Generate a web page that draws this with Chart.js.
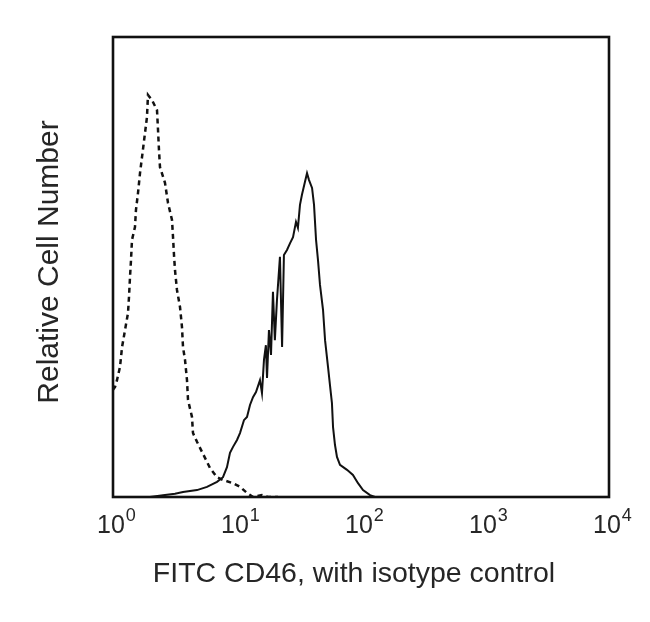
<!DOCTYPE html>
<html>
<head>
<meta charset="utf-8">
<script src="https://cdn.jsdelivr.net/npm/chart.js@4"></script>
<style>
  body { margin: 0; background: #fff; }
  #wrap { width: 650px; height: 622px; }
</style>
</head>
<body>
<div id="wrap"><canvas id="histChart" width="650" height="622"></canvas></div>
<script>
// isotype control (dashed) - fluorescence vs relative count
const isoX = [1, 1.038, 1.077, 1.139, 1.183, 1.25, 1.321, 1.346, 1.371, 1.397, 1.423, 1.504, 1.532, 1.591, 1.651, 1.714, 1.811, 1.879, 1.915, 2.063, 2.264, 2.307, 2.349, 2.393, 2.625, 2.778, 2.992, 3.048, 3.104, 3.162, 3.281, 3.47, 3.599, 3.669, 3.808, 3.951, 4.027, 4.335, 4.416, 4.757, 5.52, 6.06, 6.9, 7.71, 9.29, 10.6, 12.0, 13.5, 15.9, 17.8, 21.4];
const isoY = [23.3, 23.9, 25.4, 28.3, 32.6, 36.3, 40.0, 43.5, 47.8, 51.5, 55.9, 58.7, 62.4, 66.1, 70.4, 73.9, 79.1, 82.6, 87.4, 86.3, 84.1, 79.8, 75.4, 71.7, 68.3, 63.9, 60.2, 56.5, 52.6, 49.3, 45.0, 41.3, 37.0, 32.6, 29.8, 25.4, 21.1, 17.4, 13.9, 12.0, 8.5, 6.3, 4.3, 3.7, 3.0, 2.2, 0.9, 0, 0.4, 0, 0];

// FITC CD46 (solid)
const cd46X = [1.988, 2.53, 3.162, 3.669, 4.757, 5.73, 6.9, 7.71, 8.3, 8.78, 9.29, 10.0, 10.57, 11.38, 12.04, 12.73, 13.46, 14.23, 15.32, 15.9, 16.5, 17.1, 17.46, 18.1, 18.8, 19.5, 20.2, 21.0, 22.2, 23.1, 23.9, 25.3, 26.8, 28.3, 29.9, 31.0, 32.2, 33.4, 35.3, 36.7, 38.1, 40.3, 41.8, 43.4, 45.0, 46.7, 49.4, 51.3, 54.2, 56.2, 58.3, 59.5, 61.7, 64.0, 67.7, 77.1, 86.1, 94.6, 103.8, 118.2, 129.7];
const cd46Y = [0, 0.4, 0.7, 1.1, 1.5, 2.2, 3.3, 4.3, 6.5, 9.6, 10.9, 12.4, 13.9, 16.7, 17.4, 20.0, 21.7, 22.8, 25.4, 22.6, 29.8, 33.0, 25.9, 36.3, 30.9, 44.6, 34.1, 42.8, 52.2, 32.6, 52.6, 53.7, 55.2, 56.5, 59.8, 58.5, 63.5, 65.7, 68.5, 70.4, 68.9, 67.2, 63.5, 55.9, 51.5, 46.1, 40.7, 34.1, 28.3, 24.3, 20.4, 15.2, 11.3, 8.7, 7.0, 5.9, 4.8, 3.0, 1.5, 0.4, 0];

const tickExps = [0, 1, 2, 3, 4];
const xTitle = 'FITC CD46, with isotype control';
const yTitle = 'Relative Cell Number';

const toPoints = (xs, ys) => xs.map((x, i) => ({ x: x, y: ys[i] }));

const labelFont = 'Liberation Sans, Arial, sans-serif';

// frame, tick labels and axis titles drawn by hand
const decorPlugin = {
    id: 'decor',
    afterDraw(chart) {
        const c = chart.ctx;
        const a = chart.chartArea;
        const xs = chart.scales.x;
        c.save();
        c.strokeStyle = '#111';
        c.lineWidth = 2.6;
        c.strokeRect(a.left, a.top, a.right - a.left, a.bottom - a.top);

        c.fillStyle = '#262626';
        c.textBaseline = 'alphabetic';
        c.textAlign = 'left';
        tickExps.forEach(e => {
            const px = xs.getPixelForValue(Math.pow(10, e));
            c.font = '25px ' + labelFont;
            const wBase = c.measureText('10').width;
            const start = px - 16;
            c.fillText('10', start, 533);
            c.font = '18px ' + labelFont;
            c.fillText(String(e), start + wBase + 1, 521);
        });

        c.font = '28.5px ' + labelFont;
        c.textAlign = 'center';
        c.fillText(xTitle, 354, 582);

        c.font = '30px ' + labelFont;
        c.translate(58, 262);
        c.rotate(-Math.PI / 2);
        c.fillText(yTitle, 0, 0);
        c.restore();
    }
};

const ctx = document.getElementById('histChart').getContext('2d');

new Chart(ctx, {
    type: 'line',
    data: {
        datasets: [
            {
                label: 'Isotype control',
                data: toPoints(isoX, isoY),
                borderColor: '#111',
                borderWidth: 2.5,
                borderDash: [5, 4],
                pointRadius: 0,
                tension: 0,
                fill: false
            },
            {
                label: 'FITC CD46',
                data: toPoints(cd46X, cd46Y),
                borderColor: '#111',
                borderWidth: 2,
                pointRadius: 0,
                tension: 0,
                fill: false
            }
        ]
    },
    options: {
        responsive: false,
        animation: false,
        layout: { padding: { left: 113, right: 41, top: 37, bottom: 125 } },
        plugins: { legend: { display: false }, tooltip: { enabled: false } },
        scales: {
            x: { type: 'logarithmic', min: 1, max: 10000, display: false },
            y: { type: 'linear', min: 0, max: 100, display: false }
        }
    },
    plugins: [decorPlugin]
});
</script>
</body>
</html>
